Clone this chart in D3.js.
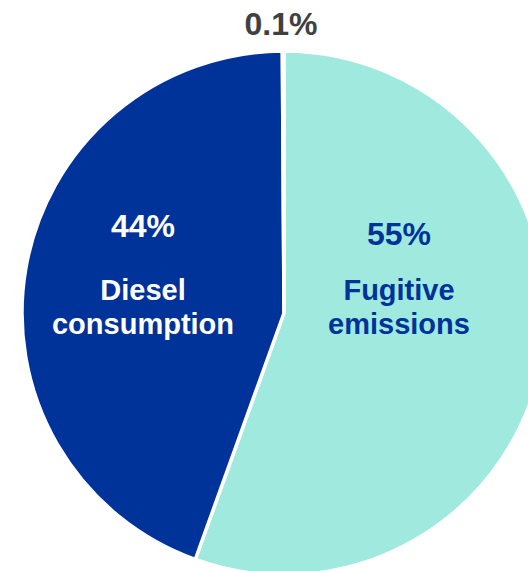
<!DOCTYPE html>
<html>
<head>
<meta charset="utf-8">
<script src="https://cdn.jsdelivr.net/npm/d3@7"></script>
<style>
  html, body { margin: 0; padding: 0; background: #ffffff; }
  svg { display: block; }
  text { font-family: "Liberation Sans", Arial, sans-serif; font-weight: bold; }
</style>
</head>
<body>
<svg id="chart" width="528" height="571"></svg>
<script>
// Emission sources, share of total (%)
const categories = ["Fugitive emissions", "Diesel consumption", "Other"];
const shares = [55, 44, 0.1];
const shareLabels = ["55%", "44%", "0.1%"];
const nameLines = [["Fugitive", "emissions"], ["Diesel", "consumption"], []];
const colours = ["#a0e9df", "#003399", "#c8c8c8"];
const textColours = ["#003399", "#ffffff", "#404040"];

const svg = d3.select("#chart");
const cx = 284, cy = 313, radius = 262;

const data = categories.map((c, i) => ({
  name: c, value: shares[i], label: shareLabels[i],
  lines: nameLines[i], fill: colours[i], ink: textColours[i]
}));

const pie = d3.pie().value(d => d.value).sort(null);
const arc = d3.arc().innerRadius(0).outerRadius(radius);
const arcs = pie(data);

const g = svg.append("g").attr("transform", `translate(${cx},${cy})`);

g.selectAll("path.slice")
  .data(arcs)
  .join("path")
  .attr("class", "slice")
  .attr("d", arc)
  .attr("fill", d => d.data.fill)
  .attr("stroke", "#ffffff")
  .attr("stroke-width", 3.5)
  .attr("stroke-linejoin", "miter");

// Label blocks placed relative to the pie centre
const labelPos = [
  { x: 115, y: -68 },   // Fugitive emissions
  { x: -141, y: -76 },  // Diesel consumption
  { x: -3, y: -278 }    // Other (above the pie)
];

arcs.forEach((a, i) => {
  const p = labelPos[i];
  const block = g.append("g").attr("transform", `translate(${p.x},${p.y})`);
  block.append("text")
    .attr("text-anchor", "middle")
    .attr("font-size", 32)
    .attr("fill", a.data.ink)
    .text(a.data.label);
  a.data.lines.forEach((ln, j) => {
    block.append("text")
      .attr("text-anchor", "middle")
      .attr("y", (i === 0 ? 55 : 63) + j * 34)
      .attr("font-size", 29)
      .attr("fill", a.data.ink)
      .text(ln);
  });
});
</script>
</body>
</html>
